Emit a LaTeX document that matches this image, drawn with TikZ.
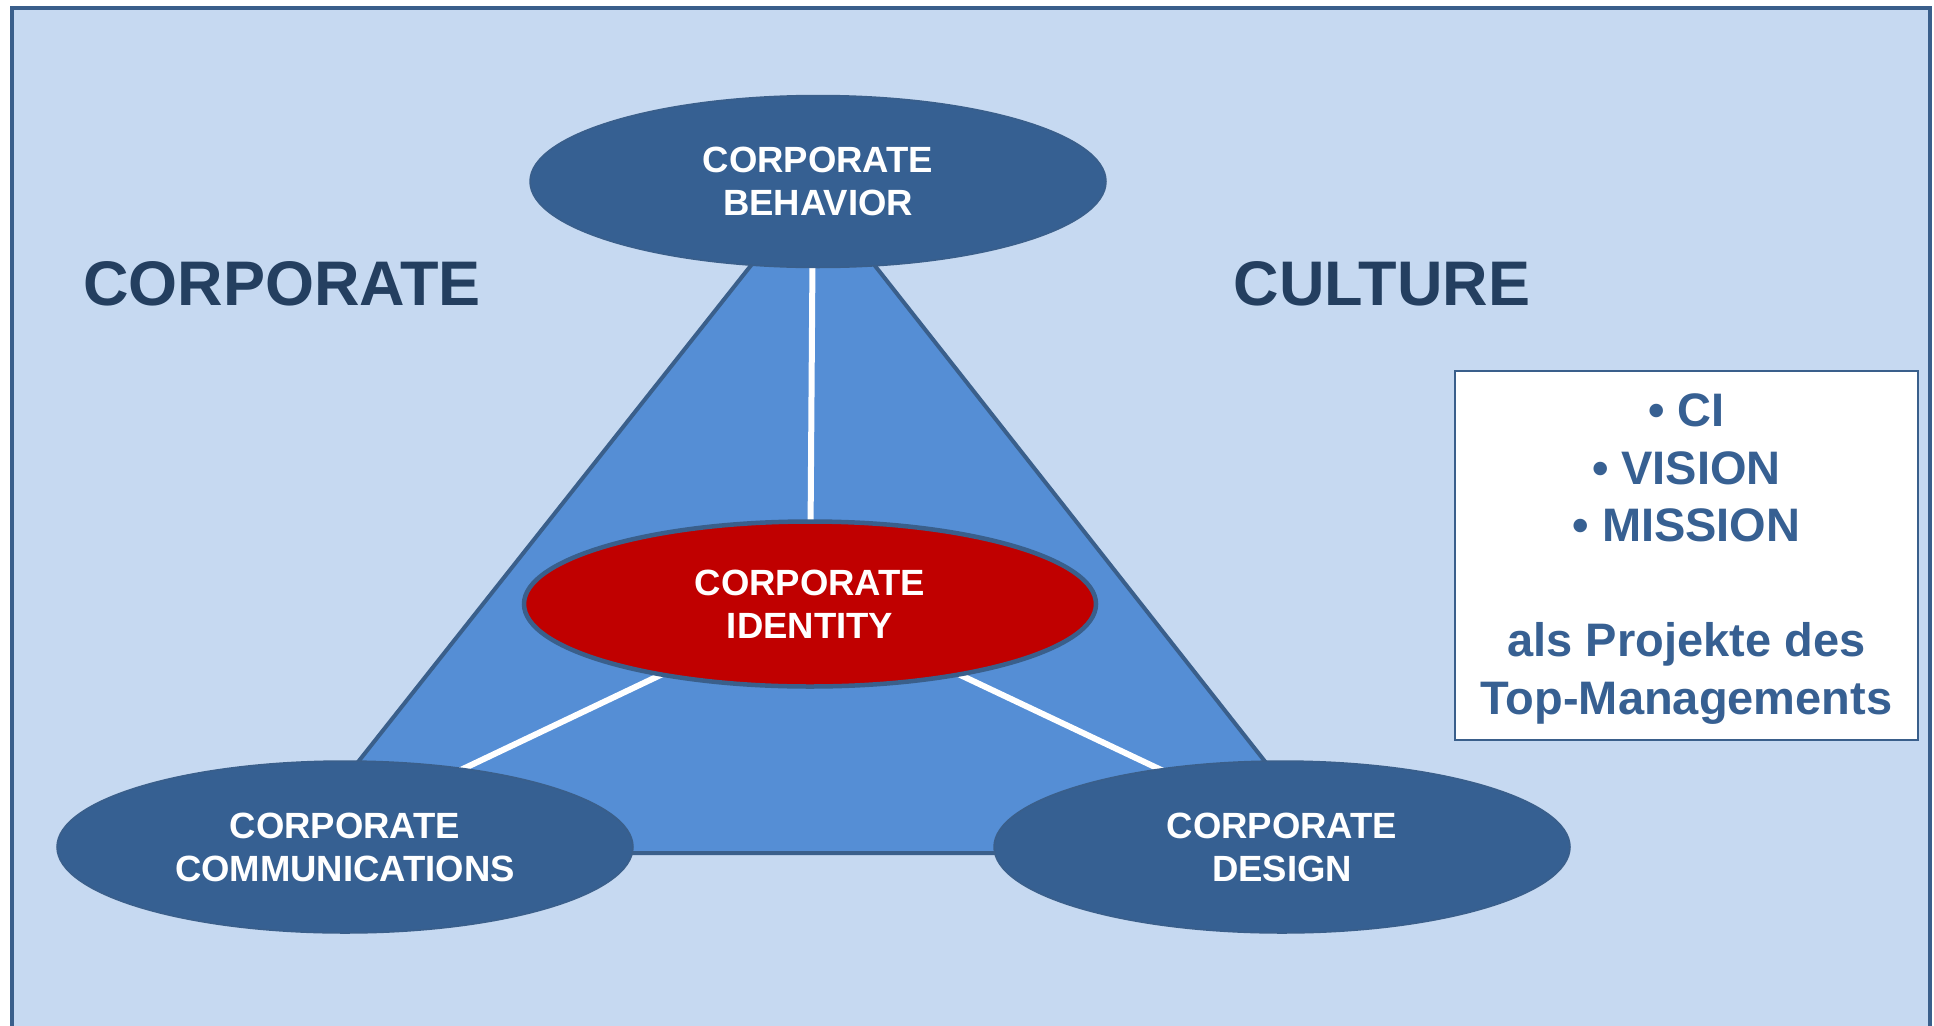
\documentclass[tikz,border=0pt]{standalone}
\usepackage{fontspec}
\setmainfont{Liberation Sans}
\usetikzlibrary{shapes.geometric}
\definecolor{bgblue}{HTML}{C6D9F1}
\definecolor{framecol}{HTML}{3A5F8B}
\definecolor{ellfill}{HTML}{366092}
\definecolor{trifill}{HTML}{558ED5}
\definecolor{headcol}{HTML}{243F60}
\definecolor{boxtext}{HTML}{376092}
\definecolor{cired}{HTML}{C00000}
\tikzset{
  ellnode/.style={ellipse, fill=ellfill, draw=framecol, line width=1.5pt, inner sep=0pt,
    minimum width=576pt, minimum height=172pt, text=white, align=center,
    font=\fontsize{36.5}{43}\selectfont\bfseries},
  cinode/.style={ellnode, fill=cired, line width=4.5pt, minimum width=572pt, minimum height=165pt},
  tri/.style={fill=trifill, draw=framecol, line width=4pt, line join=miter},
  spoke/.style={draw=white, line width=6pt},
  heading/.style={text=headcol, font=\fontsize{63}{70}\selectfont\bfseries, inner sep=0pt},
  infobox/.style={fill=white, draw=framecol, line width=2pt},
  infotext/.style={text=boxtext, align=center, inner sep=0pt, font=\fontsize{47}{57.6}\selectfont\bfseries}
}
\begin{document}
\begin{tikzpicture}[x=1pt,y=-1pt]
\useasboundingbox (0,0) rectangle (1934,1025);
\clip (0,0) rectangle (1934,1025);
% background frame
\draw[fill=bgblue, draw=framecol, line width=4pt] (11.7,8) rectangle (1930,1060);
% triangle
\coordinate (apex) at (813,187);
\coordinate (bl) at (286,853);
\coordinate (br) at (1337,853);
\coordinate (cic) at (810,604);
\draw[tri] (apex) -- (bl) -- (br) -- cycle;
% spokes
\draw[spoke] (cic) -- (apex);
\draw[spoke] (cic) -- (bl);
\draw[spoke] (cic) -- (br);
% ellipses
\node[ellnode] (beh) at (818,181.5) {CORPORATE\\BEHAVIOR};
\node[ellnode] (comm) at (345,847) {CORPORATE\\COMMUNICATIONS};
\node[ellnode] (des) at (1282,847) {CORPORATE\\DESIGN};
\node[cinode] (ci) at (cic) {CORPORATE\\IDENTITY};
% headings
\node[heading] (hcorp) at (282,284) {CORPORATE};
\node[heading] (hcult) at (1382,284) {CULTURE};
% info box
\draw[infobox] (1455,371) rectangle (1918,740);
\node[infotext] (info) at (1686.5,559) {• CI\\• VISION\\• MISSION\\[57.6pt]als Projekte des\\Top-Managements};
\end{tikzpicture}
\end{document}
